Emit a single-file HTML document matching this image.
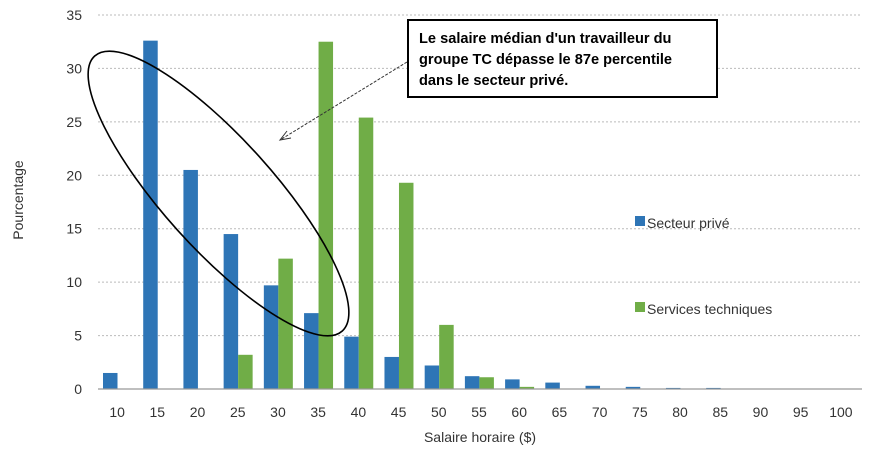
<!DOCTYPE html>
<html><head><meta charset="utf-8"><style>
body{margin:0;background:#fff;}
svg{display:block;font-family:"Liberation Sans",sans-serif;}
</style></head><body>
<svg id="c" width="873" height="450"></svg>
<script>
const categories=[10,15,20,25,30,35,40,45,50,55,60,65,70,75,80,85,90,95,100];
const priveValues=[1.5,32.6,20.5,14.5,9.7,7.1,4.9,3.0,2.2,1.2,0.9,0.6,0.3,0.2,0.1,0.1,0,0,0];
const techValues=[0,0,0,3.2,12.2,32.5,25.4,19.3,6.0,1.1,0.2,0,0,0,0,0,0,0,0];
const yTicks=[0,5,10,15,20,25,30,35];
const NS="http://www.w3.org/2000/svg";
const svg=document.getElementById('c');
const L=98,R=862,Y0=389,Y35=15;
const slot=(R-L)/categories.length;
const y=v=>Y0-(v/35)*(Y0-Y35);
const xs=i=>L+slot*i;
function mk(t,a,p){const e=document.createElementNS(NS,t);for(const k in a)e.setAttribute(k,a[k]);(p||svg).appendChild(e);return e;}
yTicks.forEach(t=>{
  if(t>0){const g=mk('line',{x1:L,x2:R,y1:y(t),y2:y(t),stroke:'#bbb','stroke-dasharray':'2,2'});
  
  }
  const tx=mk('text',{x:82,y:y(t)+5,'text-anchor':'end','font-size':14,fill:'#333'});tx.textContent=t;
  
  
});
categories.forEach((c,i)=>{
  const b=mk('rect',{x:xs(i)+5,y:y(priveValues[i]),width:14.5,height:Y0-y(priveValues[i]),fill:'#2e75b6'});
  
  
  const g=mk('rect',{x:xs(i)+19.5,y:y(techValues[i]),width:14.5,height:Y0-y(techValues[i]),fill:'#70ad47'});
  
  
  const tx=mk('text',{x:xs(i)+slot/2-1,y:417,'text-anchor':'middle','font-size':14,fill:'#333'});tx.textContent=c;
  
  
});
const ax=mk('line',{x1:L,x2:R,y1:Y0,y2:Y0,stroke:'#999','stroke-width':1.2});


</script>
<svg width="873" height="450" style="position:absolute;left:0;top:0;font-family:'Liberation Sans',sans-serif">
<text x="480" y="442" text-anchor="middle" font-size="14" fill="#333">Salaire horaire ($)</text>
<text transform="translate(23,200) rotate(-90)" text-anchor="middle" font-size="14" fill="#333">Pourcentage</text>
<rect x="635" y="216" width="10" height="10" fill="#2e75b6"/>
<text x="647" y="228" font-size="14" fill="#333">Secteur privé</text>
<rect x="635" y="302" width="10" height="10" fill="#70ad47"/>
<text x="647" y="314" font-size="14" fill="#333">Services techniques</text>
<ellipse cx="218.5" cy="193.5" rx="185" ry="55" transform="rotate(48 218.5 193.5)" fill="none" stroke="#000" stroke-width="1.6"/>
<line x1="407" y1="62" x2="280" y2="140" stroke="#333" stroke-dasharray="3,1.5"/>
<polyline points="287,131 280,140 291,138" fill="none" stroke="#333"/>
<rect x="408" y="20" width="309" height="77" fill="#fff" stroke="#000" stroke-width="2"/>
<text font-size="14.6" font-weight="bold" fill="#000">
<tspan x="419" y="43">Le salaire médian d'un travailleur du</tspan>
<tspan x="419" y="64">groupe TC dépasse le 87e percentile</tspan>
<tspan x="419" y="85">dans le secteur privé.</tspan></text>
</svg>
</body></html>
